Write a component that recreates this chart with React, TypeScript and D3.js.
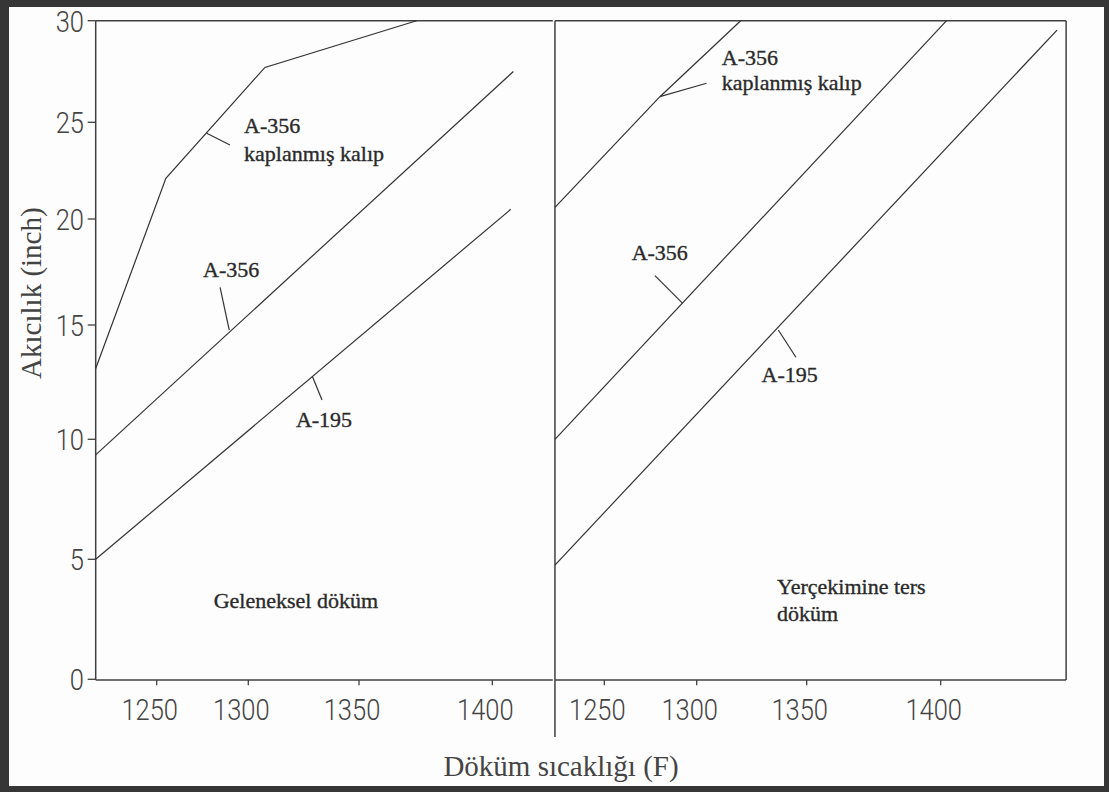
import React from 'react';
import * as d3 from 'd3';

// ---------- data ----------
const yTicks = [0, 5, 10, 15, 20, 25, 30];
const xTicks = [1250, 1300, 1350, 1400];

// Geleneksel döküm (left panel): [temperature F, fluidity inch]
const leftCoated = [[1216.7, 13.1], [1255, 22.1], [1307.5, 27.7], [1371.6, 30]];
const leftA356 = [[1216.7, 9.35], [1407.9, 27.5]];
const leftA195 = [[1216.7, 5.0], [1406.9, 20.5]];

// Yerçekimine ters döküm (right panel)
const rightCoated = [[1223.3, 20.6], [1280.1, 26.26], [1320, 30]];
const rightA356 = [[1223.3, 10], [1402.2, 30]];
const rightA195 = [[1223.3, 4.76], [1443.4, 29.54]];

// annotation anchors in data units
const leftLabels = [
  { text: 'A-356', at: [1297.7, 24.45] },
  { text: 'kaplanmış kalıp', at: [1297.7, 23.0] },
  { text: 'A-356', at: [1275.3, 17.26] },
  { text: 'A-195', at: [1321.5, 10.54] },
  { text: 'Geleneksel döküm', at: [1281.1, 2.97] },
];
const leftLeaders = [
  [[1277.3, 24.43], [1290, 23.83]],
  [[1284.6, 16.78], [1289.6, 14.78]],
  [[1329, 12.74], [1333.3, 11.72]],
];
const rightLabels = [
  { text: 'A-356', at: [1311.4, 27.82] },
  { text: 'kaplanmış kalıp', at: [1311.4, 26.59] },
  { text: 'A-356', at: [1264.8, 18.07] },
  { text: 'A-195', at: [1329.5, 12.52] },
  { text: 'Yerçekimine ters', at: [1336.5, 3.55] },
  { text: 'döküm', at: [1336.5, 2.43] },
];
const rightLeaders = [
  [[1280.1, 26.26], [1304.5, 26.92]],
  [[1277.4, 17.33], [1292.4, 16.02]],
  [[1337.1, 14.78], [1345.1, 13.59]],
];

const leftExtent = [1216.7, 1422.7];
const rightExtent = [1223.3, 1446.8];

const yTitle = 'Akıcılık (inch)';
const xTitle = 'Döküm sıcaklığı (F)';

// ---------- layout (uneven graduations of the original scan) ----------
const W = 1109;
const H = 792;
const Y_RANGE = [679.3, 559.3, 439.3, 325, 219, 122.3, 20.7];
const XL_RANGE = [156.7, 248.3, 359, 492.3];
const XR_RANGE = [604.3, 696.7, 806.7, 940.7];

const INK = '#333';
const AXIS = '#404040';
const SERIF = '"Liberation Serif", "Times New Roman", serif';
const SANS = 'Roboto, "Liberation Sans", Arial, sans-serif';

export default function App() {
  const y = d3.scaleLinear().domain(yTicks).range(Y_RANGE);
  const xL = d3.scaleLinear().domain(xTicks).range(XL_RANGE);
  const xR = d3.scaleLinear().domain(xTicks).range(XR_RANGE);

  const panels = [
    { x: xL, extent: leftExtent, series: [leftCoated, leftA356, leftA195], labels: leftLabels, leaders: leftLeaders, left: true },
    { x: xR, extent: rightExtent, series: [rightCoated, rightA356, rightA195], labels: rightLabels, leaders: rightLeaders, left: false },
  ];

  const yTop = y(30);
  const yBot = y(0);

  return (
    <svg
      width={W}
      height={H}
      viewBox={`0 0 ${W} ${H}`}
      style={{ position: 'absolute', left: 0, top: 0, display: 'block' }}
    >
      <rect x={0} y={0} width={W} height={H} fill="#363636" />
      <rect x={9} y={7} width={1104 - 9} height={786 - 7} fill="#fdfdfd" />

      {panels.map((p, pi) => {
        const line = d3
          .line<number[]>()
          .x((d) => p.x(d[0]))
          .y((d) => y(d[1]));
        const x0 = p.x(p.extent[0]);
        const x1 = p.x(p.extent[1]);
        return (
          <g key={pi}>
            {/* frame */}
            <line x1={x0} x2={x1} y1={yTop} y2={yTop} stroke={AXIS} strokeWidth={1.5} />
            <line x1={x0} x2={x1} y1={yBot + 0.7} y2={yBot + 0.7} stroke={AXIS} strokeWidth={1.5} />
            {p.left ? (
              <line x1={x0} x2={x0} y1={yTop} y2={yBot + 0.7} stroke={AXIS} strokeWidth={1.5} />
            ) : (
              <>
                <line x1={x0} x2={x0} y1={yTop} y2={737} stroke={AXIS} strokeWidth={1.5} />
                <line x1={x1} x2={x1} y1={yTop} y2={yBot + 0.7} stroke={AXIS} strokeWidth={1.5} />
              </>
            )}

            {/* x ticks */}
            {xTicks.map((t) => (
              <g key={t}>
                <line x1={p.x(t)} x2={p.x(t)} y1={yBot + 0.7} y2={yBot + 6} stroke={AXIS} strokeWidth={1.3} />
                <text
                  transform={`translate(${p.x(t) - 7},${720}) scale(0.85,1)`}
                  textAnchor="middle"
                  fontFamily={SANS}
                  fontWeight={300}
                  fontSize={30}
                  fill="#444"
                >
                  {t}
                </text>
              </g>
            ))}

            {/* y ticks (left panel only) */}
            {p.left &&
              yTicks.map((t) => (
                <g key={t}>
                  <line x1={x0 - 8} x2={x0} y1={y(t)} y2={y(t)} stroke={AXIS} strokeWidth={1.3} />
                  <text
                    transform={`translate(${84},${y(t) + 11}) scale(0.85,1)`}
                    textAnchor="end"
                    fontFamily={SANS}
                    fontWeight={300}
                    fontSize={30}
                    fill="#444"
                  >
                    {t}
                  </text>
                </g>
              ))}

            {/* series */}
            {p.series.map((s, si) => (
              <path key={si} d={line(s) || ''} fill="none" stroke={INK} strokeWidth={1.2} />
            ))}

            {/* leaders */}
            {p.leaders.map((l, li) => (
              <path key={li} d={line(l) || ''} fill="none" stroke={INK} strokeWidth={1.2} />
            ))}

            {/* labels */}
            {p.labels.map((l, li) => (
              <text
                key={li}
                x={p.x(l.at[0])}
                y={y(l.at[1])}
                fontFamily={SERIF}
                fontSize={22}
                fill="#2a2a2a"
                stroke="#2a2a2a"
                strokeWidth={0.35}
              >
                {l.text}
              </text>
            ))}
          </g>
        );
      })}

      {/* axis titles */}
      <text
        transform={`translate(41,${(y(20) + y(10)) / 2 - 36}) rotate(-90)`}
        textAnchor="middle"
        fontFamily={SERIF}
        fontSize={29}
        fill="#444"
      >
        {yTitle}
      </text>
      <text x={561} y={776} textAnchor="middle" fontFamily={SERIF} fontSize={29} fill="#444">
        {xTitle}
      </text>
    </svg>
  );
}
